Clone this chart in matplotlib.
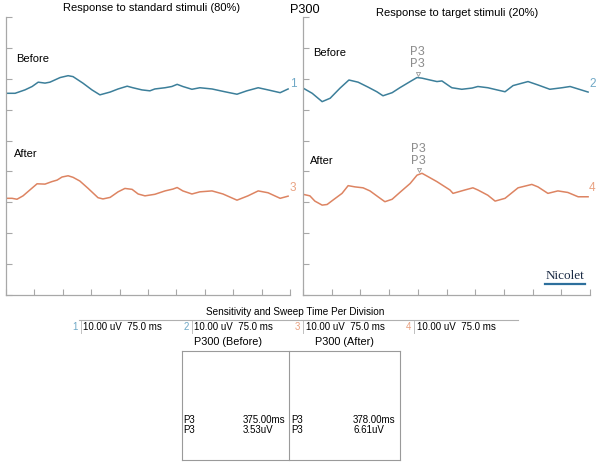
import numpy as np
import matplotlib
matplotlib.use("Agg")
import matplotlib.pyplot as plt
from matplotlib.lines import Line2D

plt.rcParams["font.family"] = ["Liberation Sans", "DejaVu Sans"]

W, H = 600, 469

# sweep: 10 divisions x 75 ms, 9 divisions x 10 uV
T_START, T_DIV, N_TDIV = 75, 75.0, 10
V_DIV, N_VDIV = 10.0, 9
BEFORE_BASE = 66.4   # display baseline (uV) of the "before" channels
AFTER_BASE = 33.0    # display baseline (uV) of the "after" channels

# channel 1 - standard stimuli, before
t1 = [75, 99, 125, 144, 160, 178, 191, 218, 239, 252, 278, 302, 323, 350, 371, 395, 410, 434,
      455, 468, 495, 513, 527, 542, 566, 587, 619, 653, 685, 711, 741, 767, 799, 820]
v1 = [-1.1, -1.1, 0.0, 1.1, 2.5, 2.2, 2.5, 4.0, 4.6, 4.3, 2.2, 0.0, -1.6, -0.7, 0.3, 1.2, 0.7, 0.0,
      -0.3, 0.3, 0.7, 1.1, 1.8, 1.1, 0.2, 0.7, 0.3, -0.6, -1.4, -0.3, 0.7, 0.0, -0.9, 0.3]

# channel 3 - standard stimuli, after
t3 = [75, 91, 104, 120, 138, 157, 178, 196, 210, 223, 239, 252, 270, 292, 318, 331, 350, 371, 389,
      408, 424, 442, 468, 495, 516, 527, 542, 566, 587, 619, 648, 685, 714, 741, 767, 799, 820]
v3 = [-1.7, -1.7, -2.0, -0.9, 1.0, 3.0, 2.9, 3.7, 4.2, 5.2, 5.6, 5.1, 3.9, 1.5, -1.5, -1.9, -1.4, 0.4, 1.5,
      1.2, -0.3, -0.9, -0.4, 0.7, 1.3, 1.8, 0.7, -0.3, 0.4, 0.7, -0.3, -2.3, -0.9, 0.7, 0.1, -1.7, -1.0]

# channel 2 - target stimuli, before
t2 = [75, 99, 125, 146, 172, 195, 219, 245, 268, 284, 308, 328, 355, 373, 386, 407, 425, 438, 459,
      464, 490, 517, 532, 558, 582, 603, 624, 663, 689, 720, 752, 773, 794, 820]
v2 = [0.6, -1.1, -3.8, -2.7, 0.6, 3.2, 2.5, 0.9, -0.6, -1.9, -0.9, 0.7, 2.7, 4.0, 3.8, 3.2, 2.7, 2.9, 1.1,
      0.7, 0.2, 0.6, 1.1, 0.7, 0.0, -0.6, 1.4, 2.7, 1.6, 0.2, 0.7, 1.1, 0.3, -0.7]

# channel 4 - target stimuli, after
t4 = [75, 93, 106, 125, 138, 153, 177, 193, 211, 232, 250, 271, 289, 308, 328, 355, 373, 386, 402,
      425, 459, 467, 498, 519, 532, 558, 577, 603, 637, 673, 689, 715, 741, 767, 794, 820]
v4 = [-0.4, -0.9, -2.6, -3.9, -3.7, -2.3, -0.1, 2.4, 2.0, 1.7, 0.7, -1.2, -2.8, -2.0, 0.2, 3.1, 5.8, 6.4, 5.3,
      3.7, 1.0, -0.1, 1.0, 1.7, 1.0, -0.7, -2.6, -1.7, 1.7, 2.8, 2.0, -0.1, 0.7, 0.2, -1.2, -1.2]

# P3 peak measurements
p3_latency = [375.00, 378.00]   # ms (before, after)
p3_amp = [3.53, 6.61]           # uV (before, after)

sens_channels = ["1", "2", "3", "4"]
sens_text = "10.00 uV  75.0 ms"

BLUE = "#3c7f9a"
ORANGE = "#dd8462"
BLUE_LBL = "#6fa8c6"
ORANGE_LBL = "#e9a282"
AXIS = "#a8a8a8"


def px(x, y):
    # pixel position -> figure fraction
    return x / W, 1 - y / H


def setup_axes(ax):
    ax.set_xlim(T_START, T_START + N_TDIV * T_DIV)
    ax.set_ylim(0, N_VDIV * V_DIV)
    ax.set_xticks(np.arange(T_START, T_START + N_TDIV * T_DIV + 1, T_DIV))
    ax.set_yticks(np.arange(0, N_VDIV * V_DIV + 1, V_DIV))
    ax.tick_params(direction="in", length=4, width=0.8, color=AXIS,
                   labelbottom=False, labelleft=False)
    for s in ["top", "right"]:
        ax.spines[s].set_visible(False)
    for s in ["left", "bottom"]:
        ax.spines[s].set_color(AXIS)
        ax.spines[s].set_linewidth(0.9)
    ax.patch.set_alpha(0)


fig = plt.figure(figsize=(W / 100, H / 100), dpi=100)
fig.patch.set_facecolor("white")

axL = fig.add_axes([6 / W, 1 - 295 / H, 284 / W, 278 / H])
axR = fig.add_axes([303 / W, 1 - 295 / H, 287 / W, 278 / H])
setup_axes(axL)
setup_axes(axR)

axL.plot(t1, np.array(v1) + BEFORE_BASE, color=BLUE, lw=1.1)
axL.plot(t3, np.array(v3) + AFTER_BASE, color=ORANGE, lw=1.1)
axR.plot(t2, np.array(v2) + BEFORE_BASE, color=BLUE, lw=1.1)
axR.plot(t4, np.array(v4) + AFTER_BASE, color=ORANGE, lw=1.1)

# P3 markers on target traces
for lat, base, trace_t, trace_v in [(p3_latency[0], BEFORE_BASE, t2, v2),
                                    (p3_latency[1], AFTER_BASE, t4, v4)]:
    peak = np.interp(lat, trace_t, trace_v) + base
    axR.plot([lat], [peak + 1.3], marker="v", ms=3, mfc="none", mec="#999999", mew=0.6)
    axR.text(lat, peak + 2.5, "P3", family="Liberation Mono", fontsize=9,
             color="#8c8c8c", ha="center", va="bottom")
    axR.text(lat, peak + 6.4, "P3", family="Liberation Mono", fontsize=9,
             color="#8c8c8c", ha="center", va="bottom")

# channel numbers at trace ends
fig.text(*px(290, 84), "1", color=BLUE_LBL, fontsize=8.5, va="center")
fig.text(*px(290, 188), "3", color=ORANGE_LBL, fontsize=8.5, va="center")
fig.text(*px(589, 84), "2", color=BLUE_LBL, fontsize=8.5, va="center")
fig.text(*px(589, 188), "4", color=ORANGE_LBL, fontsize=8.5, va="center")

# titles
fig.text(*px(152, 8), "Response to standard stimuli (80%)", fontsize=8, ha="center", va="center")
fig.text(*px(457, 13), "Response to target stimuli (20%)", fontsize=8, ha="center", va="center")
fig.text(*px(305, 10), "P300", fontsize=9.2, ha="center", va="center")
fig.text(*px(16, 59), "Before", fontsize=8, va="center")
fig.text(*px(14, 154), "After", fontsize=8, va="center")
fig.text(*px(313, 53), "Before", fontsize=8, va="center")
fig.text(*px(310, 161), "After", fontsize=8, va="center")

# Nicolet logo
fig.text(*px(565, 276), "Nicolet", family="Liberation Serif", fontsize=9.5,
         color="#1a2a44", ha="center", va="center")
fig.add_artist(Line2D([545 / W, 585 / W], [1 - 284 / H, 1 - 284 / H], color="#2d6f9c", lw=1.6))

# sensitivity / sweep row
fig.text(*px(295, 312), "Sensitivity and Sweep Time Per Division", fontsize=7.2, ha="center", va="center")
fig.add_artist(Line2D([79 / W, 518 / W], [1 - 320 / H, 1 - 320 / H], color="#b0b0b0", lw=0.8))
sens_colors = [BLUE_LBL, BLUE_LBL, ORANGE_LBL, ORANGE_LBL]
for i, ch in enumerate(sens_channels):
    x0 = 72 + i * 111.3
    fig.text(*px(x0, 327), ch, color=sens_colors[i], fontsize=7, va="center")
    fig.add_artist(Line2D([(x0 + 8.5) / W] * 2, [1 - 321 / H, 1 - 333 / H], color="#c0c0c0", lw=0.7))
    fig.text(*px(x0 + 11, 327), sens_text, fontsize=7, va="center")

# P300 result box
box_l, box_r, box_t, box_b, box_mid = 182, 400, 351, 460, 289
for xs, ys in [([box_l, box_r], [box_t, box_t]), ([box_l, box_r], [box_b, box_b]),
               ([box_l, box_l], [box_t, box_b]), ([box_r, box_r], [box_t, box_b]),
               ([box_mid, box_mid], [box_t, box_b])]:
    fig.add_artist(Line2D([x / W for x in xs], [1 - y / H for y in ys], color="#9a9a9a", lw=0.8))
fig.text(*px(228, 342), "P300 (Before)", fontsize=7.8, ha="center", va="center")
fig.text(*px(344, 342), "P300 (After)", fontsize=7.8, ha="center", va="center")
for i, (x_lab, x_val) in enumerate([(183, 243), (291, 353)]):
    fig.text(*px(x_lab, 420), "P3", fontsize=7, va="center")
    fig.text(*px(x_lab, 430), "P3", fontsize=7, va="center")
    fig.text(*px(x_val, 420), f"{p3_latency[i]:.2f}ms", fontsize=7, va="center")
    fig.text(*px(x_val, 430), f"{p3_amp[i]:.2f}uV", fontsize=7, va="center")

fig.savefig("out.png", dpi=100)
